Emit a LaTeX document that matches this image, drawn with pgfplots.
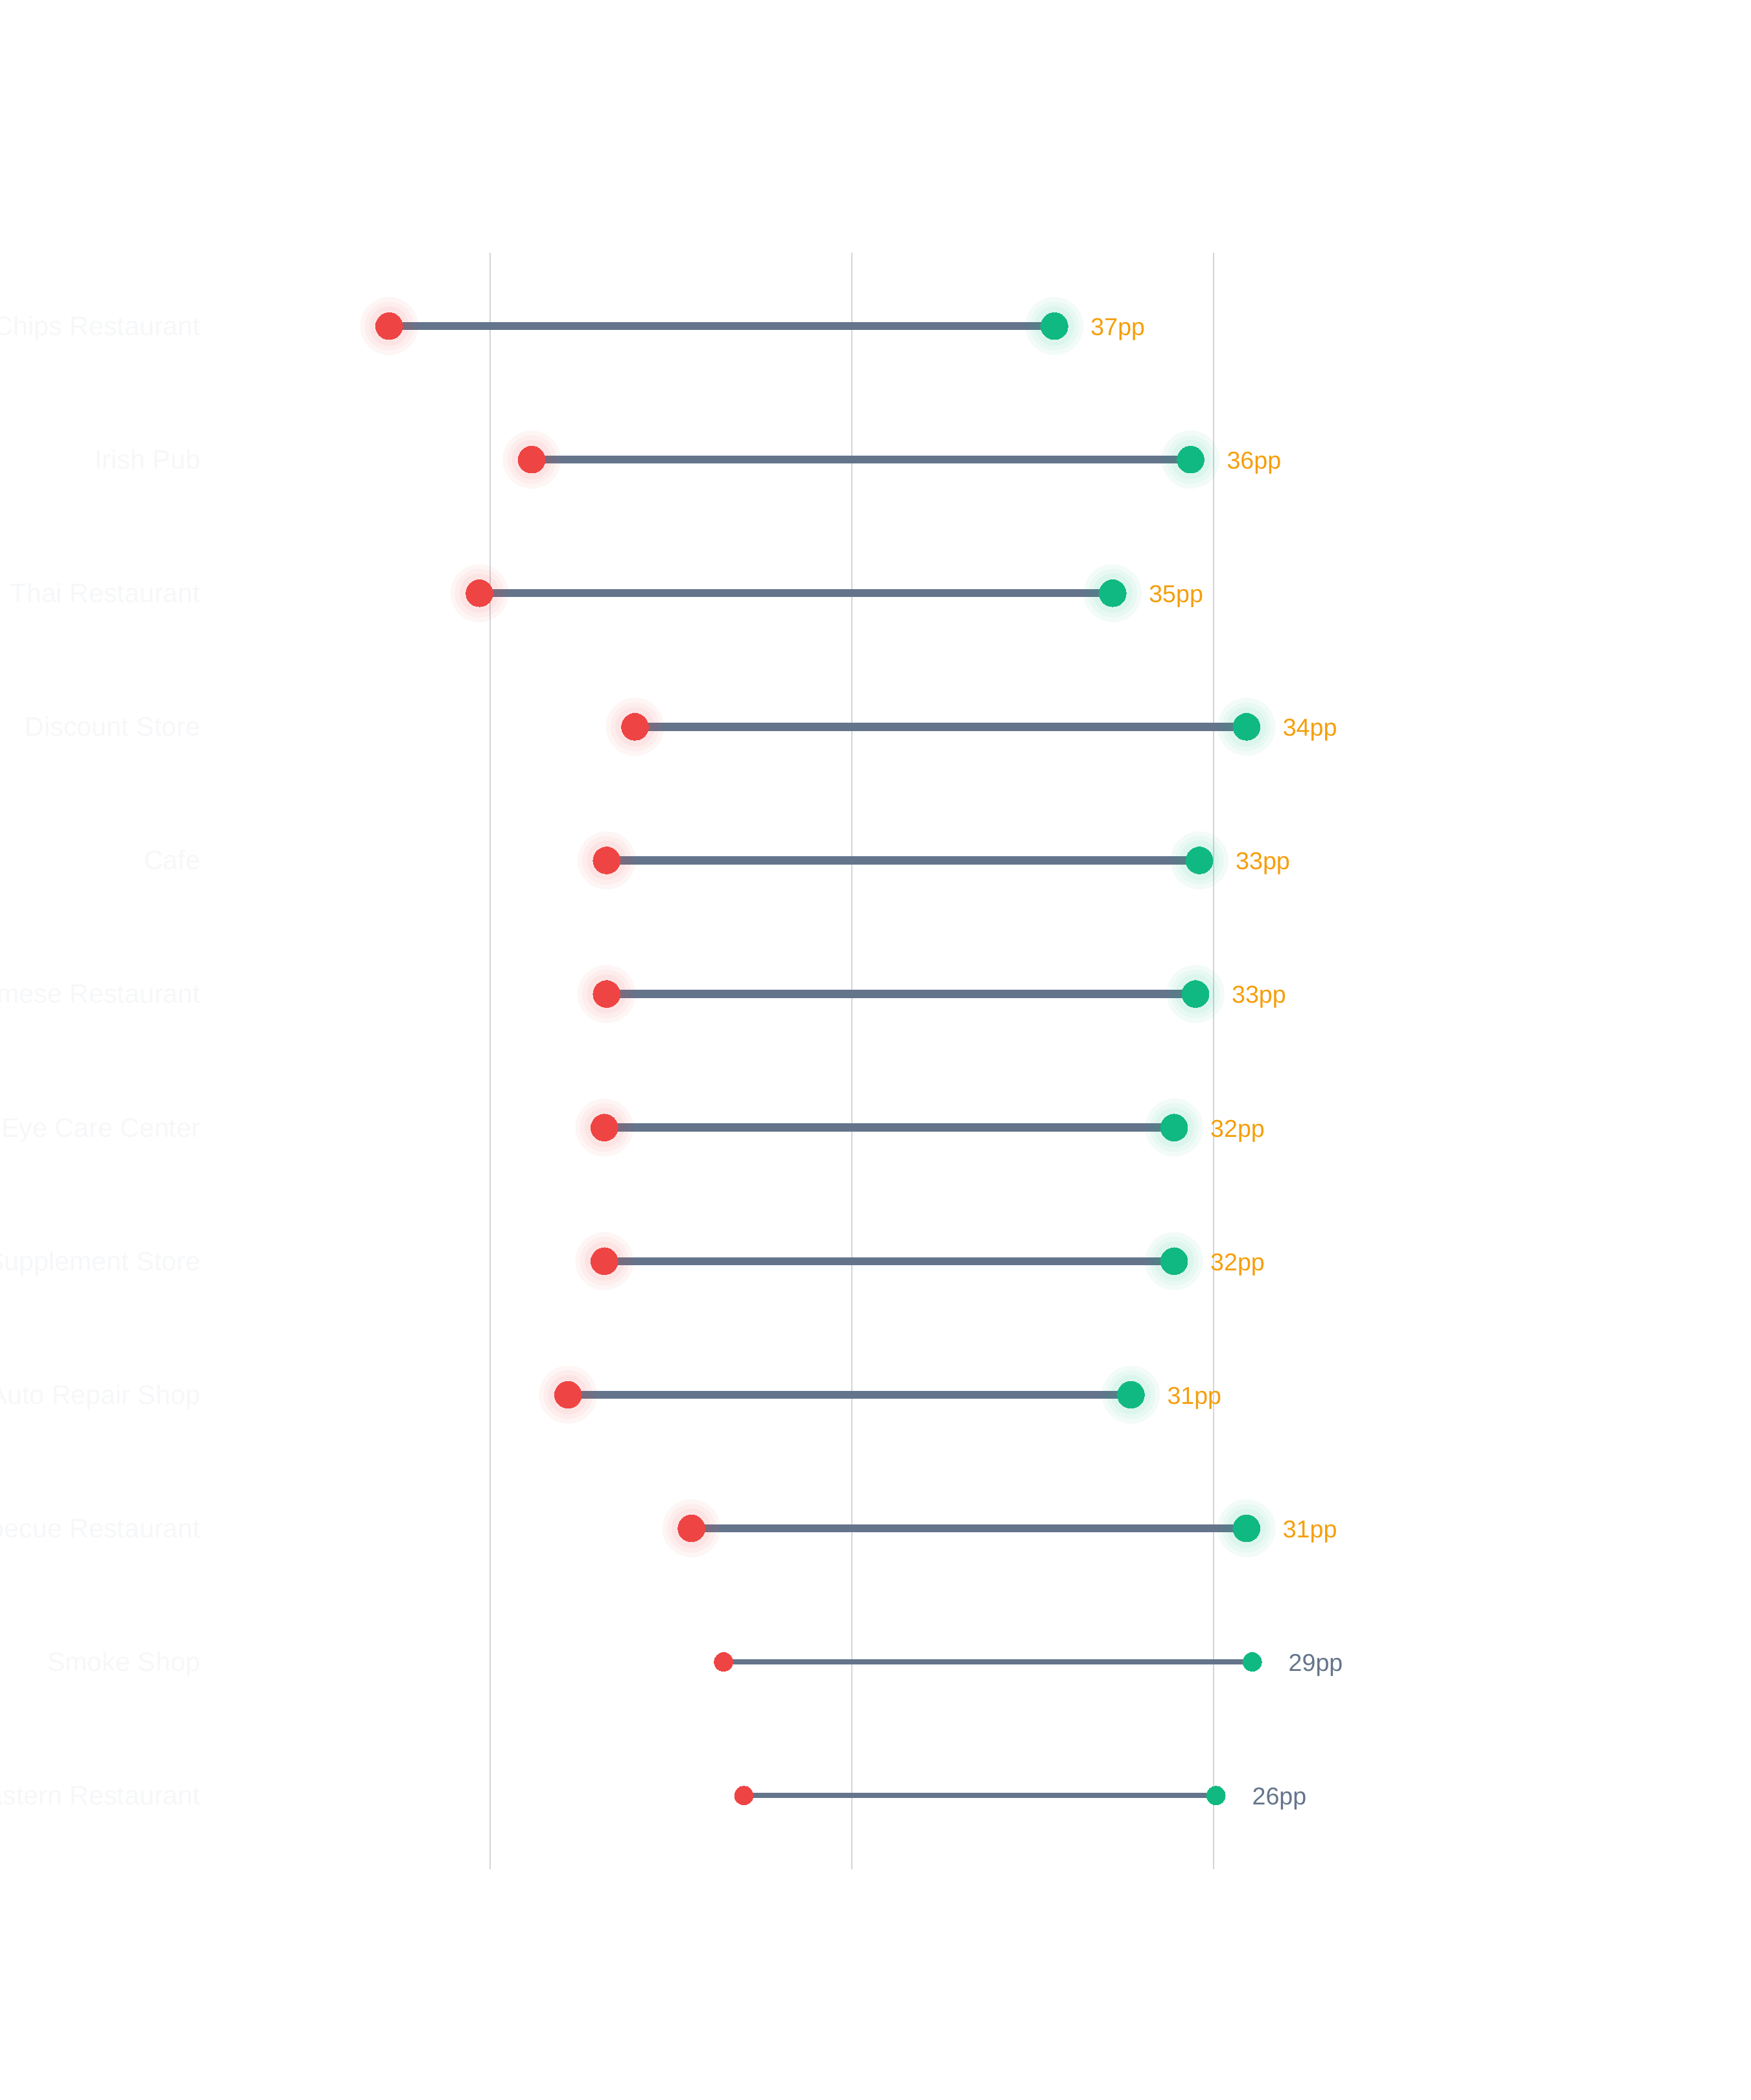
\documentclass[border=0pt]{standalone}
\usepackage{fontspec}
\setmainfont{Liberation Sans}
\usepackage{pgfplots}
\usepackage{pgfplotstable}
\pgfplotsset{compat=1.18}
\definecolor{cred}{HTML}{EF4444}
\definecolor{cgreen}{HTML}{10B981}
\definecolor{cslate}{HTML}{64748B}
\definecolor{corange}{HTML}{F59E0B}
\definecolor{cgrid}{HTML}{D1D5DB}
\definecolor{clab}{HTML}{F6F7F9}
\pgfplotstableread{
i r g lab
0 34.42 71.20 37pp
1 42.30 78.73 36pp
2 39.41 74.42 35pp
3 48.01 81.82 34pp
4 46.44 79.22 33pp
5 46.44 79.00 33pp
6 46.32 77.82 32pp
7 46.32 77.82 32pp
8 44.31 75.43 31pp
9 51.13 81.82 31pp
}\bigtab
\pgfplotstableread{
i r g lab
10 52.91 82.14 29pp
11 54.03 80.13 26pp
}\smalltab
\begin{document}
\begin{tikzpicture}
\begin{axis}[
  at={(0,0)}, anchor=south west,
  scale only axis, width=453.375pt, height=623.45pt,
  xmin=25, xmax=90, ymin=-0.55, ymax=11.55, y dir=reverse,
  axis line style={draw=none},
  xtick={40,60,80}, xticklabels={},
  xmajorgrids, grid style={cgrid, line width=0.5pt},
  major tick length=0pt,
  ytick={0,...,11},
  yticklabels={Fish \& Chips Restaurant, Irish Pub, Thai Restaurant, Discount Store, Cafe, Vietnamese Restaurant, Eye Care Center, Supplement Store, Auto Repair Shop, Barbecue Restaurant, Smoke Shop, Middle Eastern Restaurant},
  yticklabel style={anchor=east, inner sep=0pt, xshift=-6.9pt, font=\fontsize{10.3pt}{12pt}\selectfont, text=clab, text height=0.72em, text depth=0pt},
  /pgf/number format/assume math mode=true,
  clip=false,
]
% connecting lines
\addplot[only marks, mark=none, error bars/.cd, x dir=plus, x explicit, error mark=none,
  error bar style={line width=3.1pt, color=cslate}]
  table[x=r, y=i, x error expr=\thisrow{g}-\thisrow{r}] {\bigtab};
\addplot[only marks, mark=none, error bars/.cd, x dir=plus, x explicit, error mark=none,
  error bar style={line width=1.9pt, color=cslate}]
  table[x=r, y=i, x error expr=\thisrow{g}-\thisrow{r}] {\smalltab};
% halos
\addplot[only marks, mark=*, mark size=11.2pt, mark options={draw opacity=0, fill=cred, fill opacity=0.05}] table[x=r, y=i] {\bigtab};
\addplot[only marks, mark=*, mark size=9.4pt, mark options={draw opacity=0, fill=cred, fill opacity=0.05}] table[x=r, y=i] {\bigtab};
\addplot[only marks, mark=*, mark size=7.6pt, mark options={draw opacity=0, fill=cred, fill opacity=0.05}] table[x=r, y=i] {\bigtab};
\addplot[only marks, mark=*, mark size=11.2pt, mark options={draw opacity=0, fill=cgreen, fill opacity=0.05}] table[x=g, y=i] {\bigtab};
\addplot[only marks, mark=*, mark size=9.4pt, mark options={draw opacity=0, fill=cgreen, fill opacity=0.05}] table[x=g, y=i] {\bigtab};
\addplot[only marks, mark=*, mark size=7.6pt, mark options={draw opacity=0, fill=cgreen, fill opacity=0.05}] table[x=g, y=i] {\bigtab};
% dots
\addplot[only marks, mark=*, mark size=5.2pt, mark options={draw=cred, line width=0pt, fill=cred}] table[x=r, y=i] {\bigtab};
\addplot[only marks, mark=*, mark size=3.6pt, mark options={draw=cred, line width=0pt, fill=cred}] table[x=r, y=i] {\smalltab};
\addplot[only marks, mark=*, mark size=5.2pt, mark options={draw=cgreen, line width=0pt, fill=cgreen},
  point meta=explicit symbolic, nodes near coords,
  nodes near coords style={anchor=west, inner sep=0pt, xshift=14pt, font=\fontsize{9.4pt}{11pt}\selectfont, text=corange, text height=0.72em, text depth=0pt}]
  table[x=g, y=i, meta=lab] {\bigtab};
\addplot[only marks, mark=*, mark size=3.6pt, mark options={draw=cgreen, line width=0pt, fill=cgreen},
  point meta=explicit symbolic, nodes near coords,
  nodes near coords style={anchor=west, inner sep=0pt, xshift=14pt, font=\fontsize{9.4pt}{11pt}\selectfont, text=cslate, text height=0.72em, text depth=0pt}]
  table[x=g, y=i, meta=lab] {\smalltab};
\end{axis}
\pgfresetboundingbox
\useasboundingbox (-84.375pt,-89.125pt) rectangle (590.625pt,720.875pt);
\end{tikzpicture}
\end{document}
